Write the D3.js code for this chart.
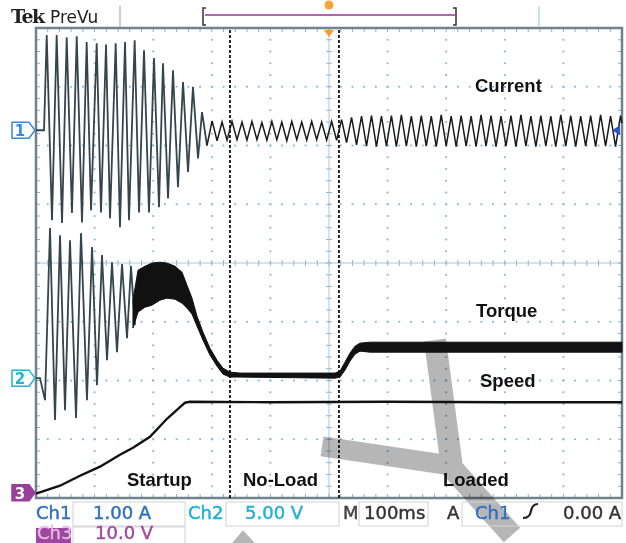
<!DOCTYPE html>
<html>
<head>
<meta charset="utf-8">
<script src="https://cdn.jsdelivr.net/npm/d3@7"></script>
<style>
  body { margin: 0; background: #fff; }
  svg { display: block; }
  .lbl { font-family: "Liberation Sans", Arial, sans-serif; font-weight: bold; font-size: 18.5px; fill: #111; }
  .tek { font-family: "DejaVu Sans", sans-serif; font-size: 18px; stroke-width: 0.45px; }
</style>
</head>
<body>
<svg id="scope" width="626" height="543"></svg>
<script>
// ---- data (time in ms, 100 ms/div) ----
// Ch1 current, A (1.00 A/div) - startup peaks/troughs
const currentStartup = [
  [0, 0], [13.7, 0], [18.3, 1.62], [27.3, -1.53], [35.3, 1.62], [44.4, -1.58], [52.4, 1.58],
  [61.4, -1.41], [69.5, 1.60], [78.5, -1.57], [86.5, 1.50], [93.9, -1.36], [103.6, 1.48],
  [110.9, -1.40], [119.5, 1.46], [126.3, -1.50], [136.0, 1.48], [143.3, -1.65], [151.9, 1.50],
  [158.7, -1.53], [168.4, 1.53], [175.8, -1.40], [184.3, 1.36], [192.8, -1.40], [201.4, 1.23],
  [209.9, -1.31], [216.7, 1.14], [225.3, -1.16], [233.8, 1.02], [242.3, -0.97], [250.9, 0.82],
  [259.4, -0.71], [267.9, 0.74], [276.5, -0.48], [283.3, 0.31], [291.8, -0.26]
];
// Ch1 current, no-load region
const currentNoLoad = [
  [291.8, -0.26], [300.5, 0.16], [309, -0.18], [317.5, 0.14], [326, -0.17], [334.5, 0.15], [343, -0.16],
  [351.5, 0.14], [360, -0.17], [368.5, 0.15], [377, -0.16], [385.5, 0.13], [394, -0.17],
  [402.5, 0.15], [411, -0.16], [419.5, 0.14], [428, -0.18], [436.5, 0.15], [445, -0.16],
  [453.5, 0.14], [462, -0.17], [470.5, 0.15], [479, -0.16], [487.5, 0.14], [496, -0.17],
  [504.5, 0.15], [513, -0.17]
];
// Ch1 current, loaded region
const currentLoaded = [
  [513, -0.17], [521.5, 0.18], [530, -0.21], [538.5, 0.22], [547, -0.25], [555.5, 0.24], [564, -0.27],
  [572.5, 0.25], [581, -0.28], [589.5, 0.24], [598, -0.27], [606.5, 0.25], [615, -0.28],
  [623.5, 0.26], [632, -0.27], [640.5, 0.24], [649, -0.28], [657.5, 0.25], [666, -0.27],
  [674.5, 0.24], [683, -0.28], [691.5, 0.26], [700, -0.27], [708.5, 0.24], [717, -0.28],
  [725.5, 0.25], [734, -0.27], [742.5, 0.24], [751, -0.28], [759.5, 0.26], [768, -0.27],
  [776.5, 0.25], [785, -0.28], [793.5, 0.24], [802, -0.27], [810.5, 0.25], [819, -0.28],
  [827.5, 0.26], [836, -0.27], [844.5, 0.24], [853, -0.28], [861.5, 0.25], [870, -0.27],
  [878.5, 0.24], [887, -0.28], [895.5, 0.26], [904, -0.27], [912.5, 0.25], [921, -0.28],
  [929.5, 0.24], [938, -0.27], [946.5, 0.25], [955, -0.28], [963.5, 0.26], [972, -0.27],
  [980.5, 0.24], [989, -0.28], [997.5, 0.25], [1000, 0.12]
];
// Ch2 torque, V (5.00 V/div) - startup swings
const torqueStartup = [
  [0, 0], [6.8, 0], [15.4, -1.87], [23.9, 12.77], [32.4, -3.57], [41.0, 12.17], [49.5, -2.72],
  [58.0, 11.74], [68.3, -3.40], [76.8, 12.34], [87.0, -1.87], [95.6, 11.15], [104.1, -0.60],
  [112.6, 10.47], [121.2, 1.53], [129.7, 9.87], [138.2, 2.21], [146.8, 9.70], [155.3, 3.40],
  [162.1, 9.53], [168.9, 4.51]
];
// Ch2 torque noise band: [ms, upper V, lower V]
const torqueBand = [
  [165.5, 6.64, 4.26], [174.1, 9.19, 5.62], [186.0, 9.53, 6.04], [197.9, 9.79, 6.21],
  [211.6, 9.87, 6.64], [223.5, 9.79, 6.81], [237.2, 9.53, 6.72], [249.1, 9.02, 6.38],
  [257.7, 7.91, 5.96], [266.2, 6.81, 5.45], [274.7, 5.28, 4.43], [285.0, 3.91, 3.23],
  [296.9, 2.55, 1.96], [308.9, 1.53, 1.02], [319.1, 0.85, 0.34], [331.1, 0.51, 0.09],
  [348.1, 0.43, 0.09], [510.2, 0.43, 0.0], [518.8, 0.60, 0.09], [527.3, 1.36, 0.68],
  [535.8, 2.13, 1.45], [544.4, 2.72, 2.04], [552.9, 2.98, 2.30], [570.0, 3.06, 2.21],
  [1000, 3.06, 2.21]
];
// Ch3 speed, V (10.0 V/div)
const speedTrace = [
  [0, -0.17], [15.4, 0.34], [41.0, 1.19], [75.1, 2.89], [109.2, 4.43], [143.3, 6.47],
  [165.5, 7.66], [194.5, 9.53], [223.5, 12.59], [237.2, 13.79], [254.3, 15.32],
  [262.8, 15.49], [400, 15.4], [600, 15.49], [800, 15.4], [1000, 15.4]
];
// phase boundaries (ms) and annotation labels
const phaseMarks = [331, 517];
const traceLabels = ['Current', 'Torque', 'Speed'];
const phaseLabels = ['Startup', 'No-Load', 'Loaded'];
// watermark strokes, [ms, div]
const markStrokeA = [[680.9, -1.31], [709.9, -3.49], [812.3, -4.63]];
const markStrokeB = [[488.1, -3.12], [709.9, -3.45]];
const markTip = [[334.5, -4.77], [353.2, -4.55], [373.7, -4.77]];

const svg = d3.select('#scope');
const x = d3.scaleLinear().domain([0, 1000]).range([36, 622]);
const yDiv = d3.scaleLinear().domain([-4, 4]).range([498, 28]);
const ch1 = d3.scaleLinear().domain([0, 1]).range([yDiv(2.26), yDiv(3.26)]);
const ch2 = d3.scaleLinear().domain([0, 5]).range([yDiv(-1.96), yDiv(-0.96)]);
const ch3 = d3.scaleLinear().domain([0, 10]).range([yDiv(-3.91), yDiv(-2.91)]);

const gridCol = '#7fb5d5';

// --- graticule ---
const grid = svg.append('g');
const yMinor = d3.range(-3.8, 3.81, 0.2);
const tMinor = d3.range(20, 981, 20);
[100, 200, 300, 400, 600, 700, 800, 900].forEach(t => {
  grid.append('g').selectAll('rect').data(yMinor).join('rect')
    .attr('x', x(t) - 0.9).attr('y', d => yDiv(d) - 0.9)
    .attr('width', 1.8).attr('height', 1.8).attr('fill', gridCol);
});
[-3, -2, -1, 1, 2, 3].forEach(v => {
  grid.append('g').selectAll('rect').data(tMinor).join('rect')
    .attr('x', d => x(d) - 0.9).attr('y', yDiv(v) - 0.9)
    .attr('width', 1.8).attr('height', 1.8).attr('fill', gridCol);
});
// centre cross with ticks
grid.append('line').attr('x1', x(500)).attr('x2', x(500)).attr('y1', yDiv(-4)).attr('y2', yDiv(4))
  .attr('stroke', '#a8c6d8').attr('stroke-width', 1);
grid.append('line').attr('x1', x(0)).attr('x2', x(1000)).attr('y1', yDiv(0)).attr('y2', yDiv(0))
  .attr('stroke', '#a8c6d8').attr('stroke-width', 1);
grid.append('g').selectAll('line').data(tMinor).join('line')
  .attr('x1', d => x(d)).attr('x2', d => x(d)).attr('y1', yDiv(0) - 3).attr('y2', yDiv(0) + 3)
  .attr('stroke', '#8fb9d2');
grid.append('g').selectAll('line').data(yMinor).join('line')
  .attr('x1', x(500) - 3).attr('x2', x(500) + 3).attr('y1', d => yDiv(d)).attr('y2', d => yDiv(d))
  .attr('stroke', '#8fb9d2');
// frame ticks
grid.append('g').selectAll('line').data(tMinor).join('line')
  .attr('x1', d => x(d)).attr('x2', d => x(d)).attr('y1', yDiv(4)).attr('y2', yDiv(4) + 4)
  .attr('stroke', '#8fb0c4');
grid.append('g').selectAll('line').data(tMinor).join('line')
  .attr('x1', d => x(d)).attr('x2', d => x(d)).attr('y1', yDiv(-4)).attr('y2', yDiv(-4) - 4)
  .attr('stroke', '#8fb0c4');
grid.append('g').selectAll('line').data(yMinor).join('line')
  .attr('x1', x(0)).attr('x2', x(0) + 4).attr('y1', d => yDiv(d)).attr('y2', d => yDiv(d))
  .attr('stroke', '#8fb0c4');
grid.append('g').selectAll('line').data(yMinor).join('line')
  .attr('x1', x(1000)).attr('x2', x(1000) - 4).attr('y1', d => yDiv(d)).attr('y2', d => yDiv(d))
  .attr('stroke', '#8fb0c4');
grid.append('rect').attr('x', x(0)).attr('y', yDiv(4))
  .attr('width', x(1000) - x(0)).attr('height', yDiv(-4) - yDiv(4))
  .attr('fill', 'none').attr('stroke', '#71828d').attr('stroke-width', 2.5);

// --- watermark ---
const wm = svg.append('g').attr('opacity', 0.68).style('mix-blend-mode', 'multiply');
const wline = d3.line().x(d => x(d[0])).y(d => yDiv(d[1]));
wm.append('path').attr('d', wline(markStrokeA)).attr('fill', 'none')
  .attr('stroke', '#939393').attr('stroke-width', 22).attr('stroke-linejoin', 'round');
wm.append('path').attr('d', wline(markStrokeB)).attr('fill', 'none')
  .attr('stroke', '#939393').attr('stroke-width', 20);
wm.append('path').attr('d', wline(markTip) + 'Z').attr('fill', '#939393');

// --- phase boundaries ---
svg.append('g').selectAll('line').data(phaseMarks).join('line')
  .attr('x1', d => x(d)).attr('x2', d => x(d)).attr('y1', yDiv(4) + 2).attr('y2', yDiv(-4))
  .attr('stroke', '#111').attr('stroke-width', 1.8).attr('stroke-dasharray', '3,2');

// --- traces ---
const tr = svg.append('g');
const l1 = d3.line().x(d => x(d[0])).y(d => ch1(d[1]));
const l2 = d3.line().x(d => x(d[0])).y(d => ch2(d[1]));
const l3 = d3.line().x(d => x(d[0])).y(d => ch3(d[1]));
tr.append('path').attr('d', l2(torqueStartup)).attr('fill', 'none')
  .attr('stroke', '#34454e').attr('stroke-width', 1.8);
tr.append('path').attr('d', d3.area().x(d => x(d[0])).y0(d => ch2(d[2])).y1(d => ch2(d[1]))(torqueBand))
  .attr('fill', '#111').attr('stroke', '#111').attr('stroke-width', 1);
tr.append('path').attr('d', l1(currentStartup)).attr('fill', 'none')
  .attr('stroke', '#34454e').attr('stroke-width', 1.8);
tr.append('path').attr('d', l1(currentNoLoad)).attr('fill', 'none')
  .attr('stroke', '#1b1b1b').attr('stroke-width', 1.5);
tr.append('path').attr('d', l1(currentLoaded)).attr('fill', 'none')
  .attr('stroke', '#1b1b1b').attr('stroke-width', 1.5);
tr.append('path').attr('d', l3(speedTrace)).attr('fill', 'none')
  .attr('stroke', '#111').attr('stroke-width', 2.4);

// --- annotations ---
const ann = svg.append('g');
ann.selectAll('text.tl').data(traceLabels).join('text').attr('class', 'lbl tl')
  .attr('x', (d, i) => [475, 476, 480][i]).attr('y', (d, i) => [92, 317, 387][i]).text(d => d);
ann.selectAll('text.pl').data(phaseLabels).join('text').attr('class', 'lbl pl')
  .attr('x', (d, i) => [127, 243, 443][i]).attr('y', 486).text(d => d);

// --- channel markers ---
const markers = [
  { n: '1', y: ch1(0), col: '#3a8ad6', fill: '#fff', txt: '#3a8ad6' },
  { n: '2', y: ch2(0), col: '#22b2d2', fill: '#fff', txt: '#22b2d2' },
  { n: '3', y: ch3(0), col: '#9b3f9c', fill: '#9b3f9c', txt: '#fff' }
];
const mk = svg.append('g').selectAll('g').data(markers).join('g');
mk.append('path')
  .attr('d', d => `M12,${d.y - 8}H29L35,${d.y}L29,${d.y + 8}H12Z`)
  .attr('fill', d => d.fill).attr('stroke', d => d.col).attr('stroke-width', 1.5);
mk.append('text').attr('x', 20).attr('y', d => d.y + 6).attr('text-anchor', 'middle')
  .attr('font-family', 'DejaVu Sans, sans-serif').attr('font-weight', 'bold').attr('font-size', 15).attr('fill', d => d.txt)
  .text(d => d.n);
// trigger level arrow on right edge
svg.append('path').attr('d', `M${x(1000) - 10},${ch1(0)}L${x(1000) - 2},${ch1(0) - 5}V${ch1(0) + 5}Z`)
  .attr('fill', '#2d55c8');
// trigger position marker
svg.append('path').attr('d', `M${x(500) - 5},${yDiv(4) + 2}H${x(500) + 5}L${x(500)},${yDiv(4) + 9}Z`)
  .attr('fill', '#f59a2a');

// --- top bar ---
const topBar = svg.append('g');
topBar.append('text').attr('x', 11).attr('y', 23).attr('font-family', 'DejaVu Serif, serif')
  .attr('font-weight', 'bold').attr('font-size', 19).attr('letter-spacing', -1.5).attr('fill', '#222').text('Tek');
topBar.append('text').attr('x', 50).attr('y', 23).attr('font-family', 'DejaVu Sans, sans-serif')
  .attr('font-size', 17).attr('fill', '#222').text('PreVu');
topBar.append('line').attr('x1', 120).attr('x2', 120).attr('y1', 6).attr('y2', 27).attr('stroke', '#b5c0c8').attr('stroke-width', 1.5);
topBar.append('line').attr('x1', 205).attr('x2', 455).attr('y1', 15).attr('y2', 15).attr('stroke', '#b265b4').attr('stroke-width', 2);
topBar.append('path').attr('d', 'M206,8H203V25H206').attr('fill', 'none').attr('stroke', '#333').attr('stroke-width', 1.5);
topBar.append('path').attr('d', 'M453,8H456V25H453').attr('fill', 'none').attr('stroke', '#333').attr('stroke-width', 1.5);
topBar.append('circle').attr('cx', x(500)).attr('cy', 5).attr('r', 4.5).attr('fill', '#f7a437');
topBar.append('line').attr('x1', 539).attr('x2', 539).attr('y1', 6).attr('y2', 26).attr('stroke', '#b8d8ea').attr('stroke-width', 1.5);

// --- status bar ---
const sb = svg.append('g');
const boxes = [[73, 502, 112, 24], [226, 502, 113, 24], [359, 502, 69, 24], [73, 527, 112, 18], [462, 502, 160, 24]];
sb.selectAll('rect.bx').data(boxes).join('rect').attr('class', 'bx')
  .attr('x', d => d[0]).attr('y', d => d[1]).attr('width', d => d[2]).attr('height', d => d[3])
  .attr('fill', 'none').attr('stroke', '#d2d2d2').attr('stroke-width', 1);
sb.append('rect').attr('x', 36).attr('y', 528).attr('width', 35).attr('height', 16).attr('fill', '#9e479e');
const statusText = [
  ['Ch1', 36, 519, '#2f6fc0', 18], ['1.00 A', 93, 519, '#2f6fc0', 18],
  ['Ch2', 188, 519, '#1fb0d6', 18], ['5.00 V', 245, 519, '#1fb0d6', 18],
  ['M', 343, 519, '#444', 18], ['100ms', 364, 519, '#333', 18],
  ['A', 447, 519, '#333', 18], ['Ch1', 475, 519, '#2f6fc0', 18],
  ['0.00 A', 563, 519, '#333', 18],
  ['Ch3', 37, 539, '#e3b8e3', 16], ['10.0 V', 95, 539, '#a04aa0', 16]
];
sb.selectAll('text').data(statusText).join('text').attr('class', 'tek')
  .attr('x', d => d[1]).attr('y', d => d[2]).attr('font-size', d => d[4])
  .attr('fill', d => d[3]).attr('stroke', d => d[3]).text(d => d[0]);
// trigger slope glyph
sb.append('path').attr('d', 'M523,518C528,518 530,516 531,511C532,506 534,504 538,504')
  .attr('fill', 'none').attr('stroke', '#222').attr('stroke-width', 2.2);
</script>
</body>
</html>
